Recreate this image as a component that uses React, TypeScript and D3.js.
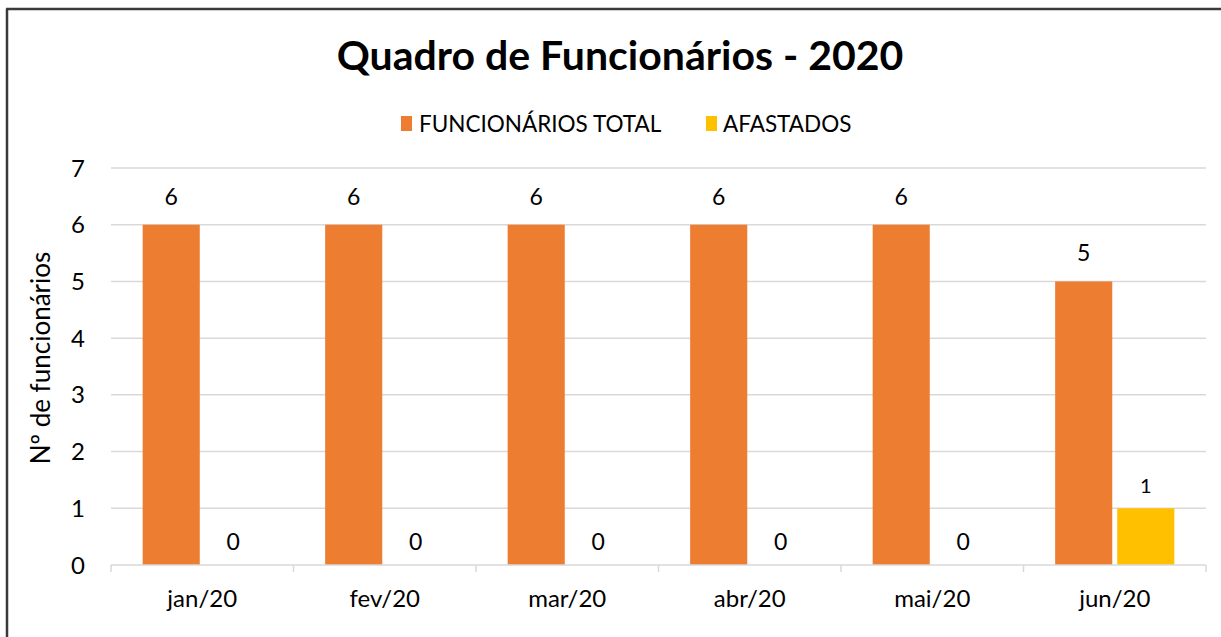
import * as d3 from 'd3';

const months = ['jan/20', 'fev/20', 'mar/20', 'abr/20', 'mai/20', 'jun/20'];
const totalValues = [6, 6, 6, 6, 6, 5];
const afastadosValues = [0, 0, 0, 0, 0, 1];
const seriesNames = ['FUNCIONÁRIOS TOTAL', 'AFASTADOS'];
const seriesColors = ['#ED7D31', '#FFC000'];
const yTicks = [0, 1, 2, 3, 4, 5, 6, 7];

const W = 1221;
const H = 637;
const FONT = 'Lato, "Open Sans", sans-serif';

export default function App() {
    const plot = { left: 111, right: 1206, top: 168, bottom: 565 };

    const x = d3.scaleBand<string>()
        .domain(months)
        .range([plot.left, plot.right])
        .paddingInner(0)
        .paddingOuter(0);

    // two bars per month, 5px gap between them
    const xSub = d3.scaleBand<number>()
        .domain([0, 1])
        .range([0, x.bandwidth()])
        .paddingInner(0.08)
        .paddingOuter(0.51);

    const y = d3.scaleLinear()
        .domain([0, 7])
        .range([plot.bottom, plot.top]);

    const series = [totalValues, afastadosValues];
    const tickEdges = d3.range(months.length + 1).map(i => plot.left + i * x.step());

    return (
        <svg
            width={W}
            height={H}
            style={{ position: 'absolute', left: 0, top: 0, background: '#fff' }}
            fontFamily={FONT}
        >
            <rect width={W} height={H} fill="#fff" />

            {/* frame */}
            <line x1={7} y1={9} x2={7} y2={H} stroke="#3a3a3a" strokeWidth={2.5} />
            <line x1={6} y1={9} x2={W} y2={9} stroke="#3a3a3a" strokeWidth={2.5} />

            {/* title */}
            <text x={620} y={70} textAnchor="middle" fontSize={41} fontWeight={700} fill="#000">
                Quadro de Funcionários - 2020
            </text>

            {/* legend */}
            <g>
                <rect x={401} y={116} width={11} height={15} fill={seriesColors[0]} />
                <text x={419} y={132} fontSize={22.5} fill="#000">{seriesNames[0]}</text>
                <rect x={706} y={116} width={11} height={15} fill={seriesColors[1]} />
                <text x={723} y={132} fontSize={22.5} fill="#000">{seriesNames[1]}</text>
            </g>

            {/* gridlines */}
            {yTicks.filter(t => t > 0).map(t => (
                <line key={t} x1={plot.left} x2={plot.right} y1={y(t)} y2={y(t)} stroke="#d9d9d9" strokeWidth={1.5} />
            ))}

            {/* y tick labels */}
            {yTicks.map(t => (
                <text key={t} x={85} y={y(t) + 8.5} textAnchor="end" fontSize={24} fill="#000">{t}</text>
            ))}

            {/* y title */}
            <text
                transform={`translate(50, 358) rotate(-90)`}
                textAnchor="middle"
                fontSize={26}
                fill="#000"
            >
                Nº de funcionários
            </text>

            {/* bars + value labels */}
            {months.map((m, i) => (
                <g key={m} transform={`translate(${x(m)},0)`}>
                    {series.map((vals, s) => {
                        const v = vals[i];
                        const bx = xSub(s)!;
                        const bw = xSub.bandwidth();
                        const small = s === 1 && v > 0;
                        return (
                            <g key={s}>
                                <rect
                                    x={bx}
                                    y={y(v)}
                                    width={bw}
                                    height={y(0) - y(v)}
                                    fill={seriesColors[s]}
                                />
                                <text
                                    x={bx + bw / 2}
                                    y={y(v) - (s === 0 ? 20 : 15)}
                                    textAnchor="middle"
                                    fontSize={small ? 20 : 23}
                                    fill="#000"
                                >
                                    {v}
                                </text>
                            </g>
                        );
                    })}
                </g>
            ))}

            {/* x axis */}
            <line x1={plot.left} x2={plot.right} y1={plot.bottom} y2={plot.bottom} stroke="#d9d9d9" strokeWidth={1.5} />
            {tickEdges.map((tx, i) => (
                <line key={i} x1={tx} x2={tx} y1={plot.bottom} y2={plot.bottom + 7} stroke="#d9d9d9" strokeWidth={1.5} />
            ))}
            {months.map(m => (
                <text key={m} x={x(m)! + x.bandwidth() / 2} y={607} textAnchor="middle" fontSize={24} fill="#000">
                    {m}
                </text>
            ))}
        </svg>
    );
}
